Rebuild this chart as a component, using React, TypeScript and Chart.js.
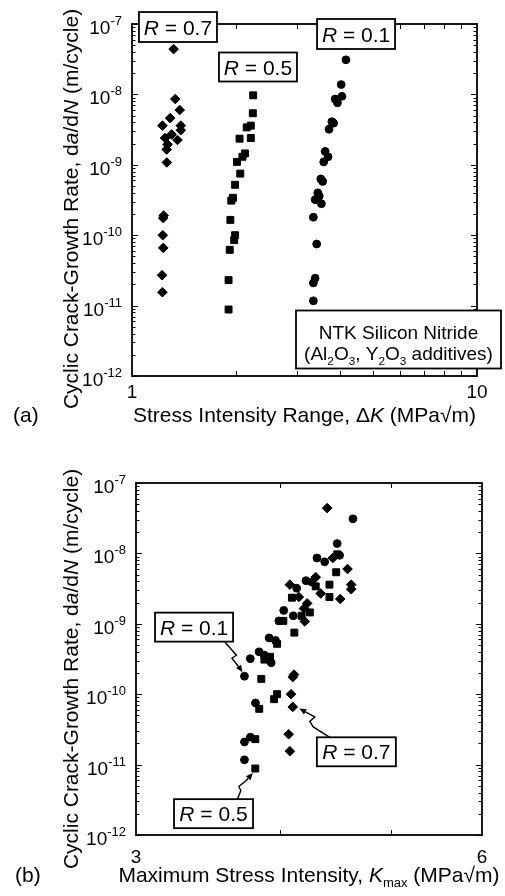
import React, { useEffect, useRef } from "react";
import { Chart, registerables } from "chart.js";

Chart.register(...registerables);

// ---------- DATA ----------
// Panel (a): stress-intensity range ΔK (MPa√m) vs da/dN (m/cycle)
const deltaKR07 = [1.32, 1.335, 1.375, 1.29, 1.225, 1.385, 1.385, 1.247, 1.303, 1.355, 1.268, 1.26, 1.262, 1.235, 1.232, 1.228, 1.232, 1.222, 1.225];
const rateR07 = [4.4e-8, 8.6e-9, 6.0e-9, 4.6e-9, 3.6e-9, 3.6e-9, 3.1e-9, 2.4e-9, 2.7e-9, 2.25e-9, 1.95e-9, 1.65e-9, 1.08e-9, 1.9e-10, 1.75e-10, 1.0e-10, 6.6e-11, 2.7e-11, 1.55e-11];

const deltaKR05 = [2.245, 2.24, 2.21, 2.15, 2.21, 2.05, 2.125, 2.09, 2.015, 2.06, 1.99, 1.962, 1.94, 1.928, 1.99, 1.978, 1.92, 1.905, 1.905];
const rateR05 = [9.7e-9, 5.4e-9, 3.6e-9, 3.4e-9, 2.4e-9, 2.35e-9, 1.45e-9, 1.3e-9, 1.1e-9, 7.5e-10, 5.2e-10, 3.4e-10, 3.1e-10, 1.65e-10, 1.0e-10, 8.5e-11, 6.2e-11, 2.3e-11, 8.8e-12];

const deltaKR01 = [4.17, 4.04, 4.06, 3.88, 3.94, 3.795, 3.84, 3.725, 3.63, 3.70, 3.595, 3.525, 3.57, 3.455, 3.49, 3.395, 3.54, 3.355, 3.43, 3.395, 3.355, 3.355];
const rateR01 = [3.1e-8, 1.38e-8, 9.4e-9, 8.6e-9, 7.6e-9, 4.1e-9, 3.9e-9, 3.2e-9, 1.55e-9, 1.3e-9, 1.1e-9, 6.3e-10, 5.8e-10, 4.0e-10, 3.6e-10, 3.2e-10, 2.8e-10, 1.8e-10, 7.5e-11, 2.45e-11, 2.1e-11, 1.17e-11];

// Panel (b): maximum stress intensity Kmax (MPa√m), same da/dN values
const kmaxR07 = [4.40, 4.45, 4.583, 4.30, 4.083, 4.617, 4.617, 4.157, 4.343, 4.517, 4.227, 4.20, 4.207, 4.117, 4.107, 4.093, 4.107, 4.073, 4.083];
const kmaxR05 = [4.49, 4.48, 4.42, 4.30, 4.42, 4.10, 4.25, 4.18, 4.03, 4.12, 3.98, 3.924, 3.88, 3.856, 3.98, 3.956, 3.84, 3.81, 3.81];
const kmaxR01 = [4.633, 4.489, 4.511, 4.311, 4.378, 4.217, 4.267, 4.139, 4.033, 4.111, 3.994, 3.917, 3.967, 3.839, 3.878, 3.772, 3.933, 3.728, 3.811, 3.772, 3.728, 3.728];

const seriesLabels = ["R = 0.1", "R = 0.5", "R = 0.7"];

// Axis ticks
const yTickExponents = [-12, -11, -10, -9, -8, -7];
const yMinorMultipliers = [2, 3, 4, 5, 6, 7, 8, 9];
const xTicksA = [1, 10];
const xTickLabelsA = ["1", "10"];
const xMinorA = [2, 3, 4, 5, 6, 7, 8, 9];
const xTicksB = [3, 6];
const xTickLabelsB = ["3", "6"];
const xMinorB = [4, 5];

// ---------- DRAWING HELPERS ----------
const FAMILY = '"Liberation Sans", Arial, Helvetica, sans-serif';

type Seg = { t: string; it?: boolean; sub?: boolean; sup?: boolean };

function segFont(size: number, s: Seg) {
  const sz = s.sub || s.sup ? size * 0.62 : size;
  return `${s.it ? "italic " : ""}${sz}px ${FAMILY}`;
}
function richWidth(ctx: CanvasRenderingContext2D, segs: Seg[], size: number) {
  let w = 0;
  for (const s of segs) {
    ctx.font = segFont(size, s);
    w += ctx.measureText(s.t).width;
  }
  return w;
}
function drawRich(ctx: CanvasRenderingContext2D, segs: Seg[], x: number, y: number, size: number, align: "left" | "center" | "right") {
  const w = richWidth(ctx, segs, size);
  let cx = align === "center" ? x - w / 2 : align === "right" ? x - w : x;
  ctx.textAlign = "left";
  ctx.textBaseline = "alphabetic";
  for (const s of segs) {
    ctx.font = segFont(size, s);
    const dy = s.sub ? size * 0.22 : s.sup ? -size * 0.42 : 0;
    ctx.fillText(s.t, cx, y + dy);
    cx += ctx.measureText(s.t).width;
  }
}

const rSegs = (label: string): Seg[] => [{ t: "R", it: true }, { t: label.slice(1) }];

type Note = { x: number; y: number; w: number; h: number; lines: Seg[][]; size: number; lineOffsets: number[] };
type Arrow = { x: number; y: number; pts: number[][] };

type Decor = {
  xTicks: number[];
  xTickLabels: string[];
  xMinor: number[];
  xLabelOffset: number;
  xTitle: Seg[];
  xTitleOffset: number;
  yTitle: Seg[];
  yTitleX: number;
  yTitleShift: number;
  panel: string;
  panelX: number;
  notes: Note[];
  arrows: Arrow[];
};

function makeDecor(d: Decor) {
  return {
    id: "decor",
    beforeDatasetsDraw(chart: any) {
      const ctx: CanvasRenderingContext2D = chart.ctx;
      const { left, right, top, bottom } = chart.chartArea;
      const xs = chart.scales.x;
      const ys = chart.scales.y;
      ctx.save();
      ctx.strokeStyle = "#000";
      ctx.fillStyle = "#000";
      ctx.lineWidth = 1;
      const line = (x1: number, y1: number, x2: number, y2: number) => {
        ctx.beginPath();
        ctx.moveTo(x1, y1);
        ctx.lineTo(x2, y2);
        ctx.stroke();
      };
      // y ticks (inward, both sides)
      for (const e of yTickExponents) {
        const py = Math.round(ys.getPixelForValue(Math.pow(10, e))) + 0.5;
        line(left, py, left + 6, py);
        line(right, py, right - 6, py);
      }
      for (let i = 0; i < yTickExponents.length - 1; i++) {
        for (const m of yMinorMultipliers) {
          const py = Math.round(ys.getPixelForValue(m * Math.pow(10, yTickExponents[i]))) + 0.5;
          line(left, py, left + 3.5, py);
          line(right, py, right - 3.5, py);
        }
      }
      // x ticks (inward, top and bottom)
      for (const v of d.xMinor) {
        const px = Math.round(xs.getPixelForValue(v)) + 0.5;
        line(px, bottom, px, bottom - 5);
        line(px, top, px, top + 5);
      }
      // frame
      ctx.lineWidth = 1.8;
      ctx.strokeRect(left, top, right - left, bottom - top);
      // y tick labels: 10 with superscript exponent
      for (const e of yTickExponents) {
        const py = ys.getPixelForValue(Math.pow(10, e));
        const rEdge = left - 10;
        ctx.font = `13px ${FAMILY}`;
        const supW = ctx.measureText(String(e)).width;
        ctx.textAlign = "right";
        ctx.textBaseline = "alphabetic";
        ctx.fillText(String(e), rEdge, py + 1);
        ctx.font = `19px ${FAMILY}`;
        ctx.fillText("10", rEdge - supW, py + 10);
      }
      // x tick labels
      ctx.font = `19px ${FAMILY}`;
      ctx.textAlign = "center";
      d.xTicks.forEach((v, i) => {
        ctx.fillText(d.xTickLabels[i], xs.getPixelForValue(v), bottom + d.xLabelOffset);
      });
      // x title
      drawRich(ctx, d.xTitle, (left + right) / 2, bottom + d.xTitleOffset, 21, "center");
      // panel label
      drawRich(ctx, [{ t: d.panel }], d.panelX, bottom + d.xTitleOffset, 21, "left");
      // y title
      ctx.save();
      ctx.translate(d.yTitleX, (top + bottom) / 2 + d.yTitleShift);
      ctx.rotate(-Math.PI / 2);
      drawRich(ctx, d.yTitle, 0, 0, 21, "center");
      ctx.restore();
      ctx.restore();
    },
    afterDraw(chart: any) {
      const ctx: CanvasRenderingContext2D = chart.ctx;
      const xs = chart.scales.x;
      const ys = chart.scales.y;
      ctx.save();
      ctx.strokeStyle = "#000";
      ctx.fillStyle = "#000";
      // arrows
      for (const a of d.arrows) {
        const cx = xs.getPixelForValue(a.x);
        const cy = ys.getPixelForValue(a.y);
        const p = a.pts.map((q) => [cx + q[0], cy + q[1]]);
        ctx.lineWidth = 1.4;
        ctx.beginPath();
        ctx.moveTo(p[0][0], p[0][1]);
        for (let i = 1; i < p.length - 1; i++) ctx.lineTo(p[i][0], p[i][1]);
        const tip = p[p.length - 1];
        const prev = p[p.length - 2];
        const ang = Math.atan2(tip[1] - prev[1], tip[0] - prev[0]);
        const hl = 7;
        const baseX = tip[0] - Math.cos(ang) * hl;
        const baseY = tip[1] - Math.sin(ang) * hl;
        ctx.lineTo(baseX, baseY);
        ctx.stroke();
        ctx.beginPath();
        ctx.moveTo(tip[0], tip[1]);
        ctx.lineTo(baseX + Math.sin(ang) * 3, baseY - Math.cos(ang) * 3);
        ctx.lineTo(baseX - Math.sin(ang) * 3, baseY + Math.cos(ang) * 3);
        ctx.closePath();
        ctx.fill();
      }
      // note boxes
      for (const n of d.notes) {
        const cx = xs.getPixelForValue(n.x);
        const cy = ys.getPixelForValue(n.y);
        ctx.fillStyle = "#fff";
        ctx.fillRect(cx - n.w / 2, cy - n.h / 2, n.w, n.h);
        ctx.strokeStyle = "#000";
        ctx.lineWidth = 1.8;
        ctx.strokeRect(cx - n.w / 2, cy - n.h / 2, n.w, n.h);
        ctx.fillStyle = "#000";
        n.lines.forEach((segs, i) => drawRich(ctx, segs, cx, cy + n.lineOffsets[i], n.size, "center"));
      }
      ctx.restore();
    },
  };
}

function datasets(xR01: number[], xR05: number[], xR07: number[]) {
  const pts = (xs: number[], ys: number[]) => xs.map((x, i) => ({ x, y: ys[i] }));
  const base = { backgroundColor: "#000", borderColor: "#000", borderWidth: 1, showLine: false };
  return [
    { ...base, label: seriesLabels[0], data: pts(xR01, rateR01), pointStyle: "circle", pointRadius: 3.9 },
    { ...base, label: seriesLabels[1], data: pts(xR05, rateR05), pointStyle: "rect", pointRadius: 4.9 },
    { ...base, label: seriesLabels[2], data: pts(xR07, rateR07), pointStyle: "rectRot", pointRadius: 4.8 },
  ];
}

function axes(xmin: number, xmax: number) {
  const common = { ticks: { display: false }, grid: { display: false, drawTicks: false }, border: { display: false } };
  return {
    x: { ...common, type: "logarithmic", min: xmin, max: xmax, afterFit: (s: any) => { s.height = 0; } },
    y: { ...common, type: "logarithmic", min: 1e-12, max: 1e-7, afterFit: (s: any) => { s.width = 0; } },
  };
}

const yTitleSegs: Seg[] = [
  { t: "Cyclic Crack-Growth Rate, d" },
  { t: "a", it: true },
  { t: "/d" },
  { t: "N", it: true },
  { t: " (m/cycle)" },
];

export default function App() {
  const refA = useRef<HTMLCanvasElement>(null);
  const refB = useRef<HTMLCanvasElement>(null);

  useEffect(() => {
    const decorA = makeDecor({
      xTicks: xTicksA,
      xTickLabels: xTickLabelsA,
      xMinor: xMinorA,
      xLabelOffset: 22,
      xTitle: [{ t: "Stress Intensity Range, Δ" }, { t: "K", it: true }, { t: " (MPa√m)" }],
      xTitleOffset: 46,
      yTitle: yTitleSegs,
      yTitleX: 78,
      yTitleShift: 9,
      panel: "(a)",
      panelX: 13,
      notes: [
        { x: 1.359, y: 9.06e-8, w: 78, h: 30, lines: [rSegs(seriesLabels[2])], size: 21, lineOffsets: [7.5] },
        { x: 2.318, y: 2.45e-8, w: 78, h: 29, lines: [rSegs(seriesLabels[1])], size: 21, lineOffsets: [7.5] },
        { x: 4.461, y: 7.21e-8, w: 78, h: 30, lines: [rSegs(seriesLabels[0])], size: 21, lineOffsets: [7.5] },
        {
          x: 5.922, y: 3.3e-12, w: 205, h: 58, size: 19, lineOffsets: [0, 21],
          lines: [
            [{ t: "NTK Silicon Nitride" }],
            [{ t: "(Al" }, { t: "2", sub: true }, { t: "O" }, { t: "3", sub: true }, { t: ", Y" }, { t: "2", sub: true }, { t: "O" }, { t: "3", sub: true }, { t: " additives)" }],
          ],
        },
      ],
      arrows: [],
    });
    const decorB = makeDecor({
      xTicks: xTicksB,
      xTickLabels: xTickLabelsB,
      xMinor: xMinorB,
      xLabelOffset: 28,
      xTitle: [{ t: "Maximum Stress Intensity, " }, { t: "K", it: true }, { t: "max", sub: true }, { t: " (MPa√m)" }],
      xTitleOffset: 47,
      yTitle: yTitleSegs,
      yTitleX: 78,
      yTitleShift: 10,
      panel: "(b)",
      panelX: 15,
      notes: [
        { x: 3.37, y: 8.97e-10, w: 78, h: 29, lines: [rSegs(seriesLabels[0])], size: 21, lineOffsets: [7.5] },
        { x: 4.665, y: 1.52e-11, w: 79, h: 29, lines: [rSegs(seriesLabels[2])], size: 21, lineOffsets: [7.5] },
        { x: 3.504, y: 2.01e-12, w: 79, h: 29, lines: [rSegs(seriesLabels[1])], size: 21, lineOffsets: [7.5] },
      ],
      arrows: [
        { x: kmaxR01[17], y: rateR01[17], pts: [[-19.4, -34], [-8, -21], [-12.5, -18], [-5, -8.5], [-2, -4]] },
        { x: kmaxR07[16], y: rateR07[16], pts: [[37, 30.5], [20.5, 20], [17, 14.5], [22, 10], [6.5, 1.5]] },
        { x: kmaxR05[18], y: rateR05[18], pts: [[-18, 31], [-14.5, 22], [-16.5, 18], [-9, 12], [-2.5, 4.5]] },
      ],
    });

    const common = (padding: any) => ({
      responsive: false,
      animation: false,
      events: [],
      devicePixelRatio: 1,
      layout: { padding },
      plugins: { legend: { display: false }, tooltip: { enabled: false } },
    });

    const chartA = new Chart(refA.current as HTMLCanvasElement, {
      type: "scatter",
      data: { datasets: datasets(deltaKR01, deltaKR05, deltaKR07) as any },
      options: { ...common({ left: 132, right: 28, top: 24, bottom: 69 }), scales: axes(1, 10) } as any,
      plugins: [decorA as any],
    });
    const chartB = new Chart(refB.current as HTMLCanvasElement, {
      type: "scatter",
      data: { datasets: datasets(kmaxR01, kmaxR05, kmaxR07) as any },
      options: { ...common({ left: 136, right: 23, top: 38, bottom: 61 }), scales: axes(3, 6) } as any,
      plugins: [decorB as any],
    });
    return () => {
      chartA.destroy();
      chartB.destroy();
    };
  }, []);

  return (
    <div style={{ position: "absolute", left: 0, top: 0, width: 505, height: 896, background: "#fff", overflow: "hidden" }}>
      <canvas ref={refA} width={505} height={445} style={{ position: "absolute", left: 0, top: 0, width: 505, height: 445, display: "block" }} />
      <canvas ref={refB} width={505} height={451} style={{ position: "absolute", left: 0, top: 445, width: 505, height: 451, display: "block" }} />
    </div>
  );
}
